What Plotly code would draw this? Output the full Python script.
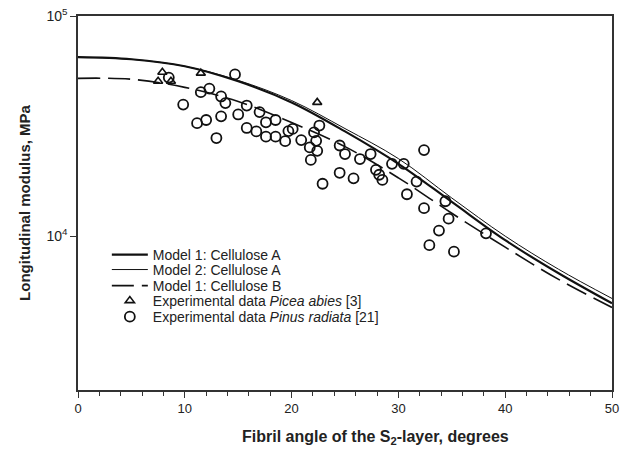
import plotly.graph_objects as go

# Model curves (fibril angle in degrees, longitudinal modulus in MPa)
angle_model = [0, 5, 10, 15, 20, 25, 30, 35, 40, 45, 50]
model1_A = [65000, 63600, 59100, 50500, 40500, 29900, 21300, 14300, 9590, 6780, 4950]
model2_A = [65000, 63600, 59100, 51000, 41300, 30800, 22500, 14900, 10000, 7070, 5210]
model1_B = [52100, 51600, 47400, 40900, 32800, 25500, 18400, 12700, 8910, 6360, 4740]

# Experimental data: Picea abies [3]
picea_angle = [7.9, 7.5, 8.7, 11.5, 22.4]
picea_E = [55500, 50500, 50500, 55000, 40500]

# Experimental data: Pinus radiata [21]
pinus_angle = [8.5, 14.7, 11.5, 12.3, 13.4, 13.8, 9.85, 13.4, 12.0, 11.15, 12.96,
               15.0, 15.8, 17.0, 17.6, 15.8, 16.7, 17.6, 18.5, 18.5, 19.4,
               19.7, 20.1, 20.9, 21.7, 22.1, 22.3, 22.4, 21.8, 22.6, 22.9,
               24.5, 25.0, 24.5, 25.8, 26.4, 27.4, 27.9, 28.2, 28.5, 29.4,
               30.5, 32.4, 31.7, 30.8, 32.4, 34.4, 34.7, 33.8, 32.9, 35.2, 38.2]
pinus_E = [52500, 54300, 45100, 46800, 43100, 40200, 39600, 35000, 33700, 32600, 27900,
           35700, 39200, 36600, 32900, 31000, 29900, 28300, 33700, 28300, 27000,
           30000, 30700, 27300, 25300, 29600, 27100, 24400, 22200, 31800, 17300,
           25800, 23600, 19400, 18300, 22400, 23600, 20000, 19000, 18000, 21300,
           21300, 24600, 17700, 15500, 13400, 14400, 12000, 10600, 9100, 8500, 10300]

y_ticks = [1e4, 1e5]
y_ticktext = ["10<sup>4</sup>", "10<sup>5</sup>"]
x_title = "<b>Fibril angle of the S<sub>2</sub>-layer, degrees</b>"
y_title = "<b>Longitudinal modulus, MPa</b>"

FONT = "Liberation Sans, Arial, sans-serif"
INK = "#222222"
AX = "#333333"
LEG_FONT = dict(family=FONT, size=14, color=INK)

fig = go.Figure()
fig.add_trace(go.Scatter(x=angle_model, y=model1_A, mode="lines", name="Model 1: Cellulose A",
                         legend="legend",
                         line=dict(color="#111111", width=2.2, shape="spline")))
fig.add_trace(go.Scatter(x=angle_model, y=model2_A, mode="lines", name="Model 2: Cellulose A",
                         legend="legend2",
                         line=dict(color="#111111", width=1.0, shape="spline")))
fig.add_trace(go.Scatter(x=angle_model, y=model1_B, mode="lines", name="Model 1: Cellulose B",
                         legend="legend3",
                         line=dict(color="#111111", width=1.6, shape="spline", dash="22px,8px")))
fig.add_trace(go.Scatter(x=picea_angle, y=picea_E, mode="markers",
                         name="Experimental data <i>Picea abies</i> [3]", legend="legend4",
                         marker=dict(symbol="triangle-up-open", size=8, color="#111111",
                                     line=dict(width=1.6))))
fig.add_trace(go.Scatter(x=pinus_angle, y=pinus_E, mode="markers",
                         name="Experimental data <i>Pinus radiata</i> [21]", legend="legend5",
                         marker=dict(symbol="circle-open", size=10, color="#111111",
                                     line=dict(width=1.8))))

leg_rows = {"legend": 0.361, "legend2": 0.321, "legend3": 0.278, "legend4": 0.238, "legend5": 0.195}
leg_common = dict(x=0.054, xanchor="left", yanchor="middle", bgcolor="rgba(0,0,0,0)",
                  borderwidth=0, font=LEG_FONT, itemwidth=36)

fig.update_layout(
    width=629, height=454,
    margin=dict(l=78, r=17, t=16, b=64, autoexpand=False),
    paper_bgcolor="white", plot_bgcolor="white",
    font=dict(family=FONT, size=12, color=INK),
    showlegend=True,
    **{k: dict(y=v, **leg_common) for k, v in leg_rows.items()},
    annotations=[dict(text=x_title, xref="paper", yref="paper", x=0.558, y=-0.126,
                      xanchor="center", yanchor="middle", showarrow=False,
                      font=dict(family=FONT, size=16, color=INK))],
)
fig.update_xaxes(
    range=[0, 50], tick0=0, dtick=10, ticks="outside", ticklen=6, tickwidth=1.2,
    tickcolor=AX, showline=True, linecolor=AX, linewidth=1.5, mirror=True,
    showgrid=False, zeroline=False, automargin=False,
    minor=dict(tick0=0, dtick=2, ticks="outside", ticklen=4, tickwidth=1.2, tickcolor=AX,
               showgrid=False),
    tickfont=dict(family=FONT, size=13, color=INK),
)
fig.update_yaxes(
    type="log", range=[3.30103, 5], tickvals=y_ticks, ticktext=y_ticktext,
    ticks="outside", ticklen=6, tickwidth=1.2, tickcolor=AX,
    showline=True, linecolor=AX, linewidth=1.5, mirror=True,
    showgrid=False, zeroline=False, automargin=False,
    tickfont=dict(family=FONT, size=14, color=INK),
    title=dict(text=y_title, font=dict(family=FONT, size=15, color=INK), standoff=12),
)

fig.write_html("out.html")
